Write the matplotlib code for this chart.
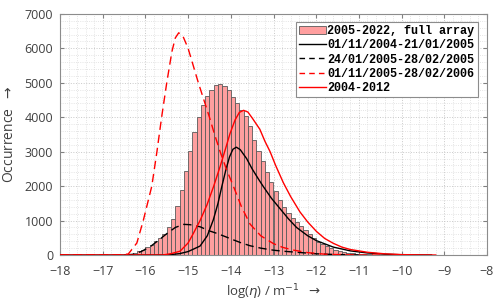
import numpy as np
import matplotlib.pyplot as plt
from matplotlib.ticker import MultipleLocator
from matplotlib.patches import Patch
from matplotlib.lines import Line2D

# histogramme 2005-2022 (centres de classes, largeur 0.1)
bin_centres = np.round(np.arange(-16.45, -9.95, 0.1), 2)
counts = [20, 40, 70, 110, 160, 220, 300, 400, 500, 620,
          800, 1060, 1420, 1900, 2450, 3030, 3560, 4000, 4350, 4620,
          4800, 4940, 4970, 4920, 4780, 4580, 4400, 4210, 4040, 3750,
          3350, 3020, 2720, 2400, 2110, 1850, 1610, 1380, 1220, 1070,
          950, 830, 720, 600, 480, 390, 320, 260, 195, 145,
          115, 90, 70, 55, 42, 32, 25, 18, 13, 10,
          7, 5, 4, 3, 2]

# courbes
x_blk = [-18, -15.5, -15.2, -15.0, -14.72, -14.55, -14.41, -14.3, -14.21, -14.12, -14.03,
         -13.95, -13.87, -13.78, -13.63, -13.5, -13.35, -13.24, -13.05, -12.85, -12.65,
         -12.46, -12.2, -12.0, -11.6, -11.2, -10.8, -10.4, -10.0, -9.3]
y_blk = [0, 0, 40, 100, 260, 560, 1020, 1500, 1990, 2450, 2850,
         3070, 3130, 3060, 2800, 2500, 2200, 1990, 1650, 1350, 1050,
         800, 560, 420, 230, 120, 60, 25, 8, 0]

x_blkd = [-18, -16.5, -16.3, -16.1, -15.89, -15.7, -15.5, -15.3, -15.1, -14.95, -14.72,
          -14.5, -14.33, -14.1, -13.94, -13.75, -13.55, -13.3, -13.0, -12.77, -12.4,
          -12.0, -11.5, -11.0]
y_blkd = [0, 0, 20, 100, 240, 420, 620, 800, 890, 880, 820,
          700, 630, 520, 440, 350, 270, 200, 140, 110, 75,
          35, 12, 0]

x_redd = [-18, -16.6, -16.4, -16.2, -16.05, -15.95, -15.85, -15.73, -15.62, -15.5, -15.38,
          -15.3, -15.22, -15.12, -15.0, -14.88, -14.76, -14.63, -14.5, -14.38, -14.25,
          -14.1, -13.94, -13.75, -13.55, -13.3, -13.0, -12.78, -12.54, -12.2, -11.8,
          -11.4, -11.0, -10.5]
y_redd = [0, 0, 30, 350, 1000, 1500, 2000, 3000, 4000, 5000, 5900,
          6300, 6450, 6350, 6000, 5500, 5000, 4500, 4000, 3500, 3000,
          2480, 2000, 1400, 900, 560, 330, 220, 145, 70, 25,
          8, 0, 0]

x_red = [-18, -15.6, -15.4, -15.19, -15.0, -14.88, -14.72, -14.56, -14.4, -14.25, -14.12,
         -14.02, -13.9, -13.8, -13.7, -13.6, -13.5, -13.32, -13.2, -13.08, -12.95,
         -12.77, -12.6, -12.38, -12.2, -11.99, -11.8, -11.6, -11.4, -11.2, -10.8,
         -10.4, -10.0, -9.6, -9.2]
y_red = [0, 0, 40, 110, 350, 620, 1000, 1450, 2000, 2570, 3100,
         3520, 3920, 4140, 4200, 4150, 3980, 3650, 3300, 3000, 2600,
         2100, 1700, 1250, 960, 680, 480, 340, 230, 160, 80,
         35, 12, 4, 0]

labels = ['2005-2022, full array', '01/11/2004-21/01/2005', '24/01/2005-28/02/2005',
          '01/11/2005-28/02/2006', '2004-2012']

gris = '#404040'
rose = '#ff9f9f'

fig = plt.figure(figsize=(5, 3.08), dpi=100)
ax = fig.add_axes([0.12, 0.172, 0.854, 0.783])

ax.bar(bin_centres, counts, width=0.1, color=rose, edgecolor='#5a5a5a', linewidth=0.6, zorder=2)
ax.plot(x_blk, y_blk, '-', color='k', lw=1.0, zorder=3)
ax.plot(x_blkd, y_blkd, '--', color='k', lw=1.0, dashes=(6, 3.5), zorder=3)
ax.plot(x_redd, y_redd, '--', color='r', lw=1.0, dashes=(6, 3.5), zorder=3)
ax.plot(x_red, y_red, '-', color='r', lw=1.0, zorder=3)

ax.set_xlim(-18, -8)
ax.set_ylim(0, 7000)
ax.xaxis.set_major_locator(MultipleLocator(1))
ax.xaxis.set_minor_locator(MultipleLocator(0.2))
ax.yaxis.set_major_locator(MultipleLocator(1000))
ax.yaxis.set_minor_locator(MultipleLocator(200))
ax.grid(which='major', color='#c8c8c8', ls=':', lw=0.7, zorder=0)
ax.grid(which='minor', color='#dcdcdc', ls=':', lw=0.6, zorder=0)
ax.set_axisbelow(True)
ax.tick_params(which='major', direction='in', top=True, right=True, length=3,
               color='#808080', labelsize=9, labelcolor=gris)
ax.tick_params(axis='x', pad=7)
ax.tick_params(axis='y', pad=5)
ax.tick_params(which='minor', length=0)
for s in ax.spines.values():
    s.set_color('#8c8c8c')
    s.set_linewidth(0.8)
for t in ax.get_xticklabels() + ax.get_yticklabels():
    t.set_family('Open Sans')

ax.set_xlabel(r'log($\eta$) / m$^{-1}$  $\rightarrow$', fontsize=9.5, color=gris, family='Open Sans', labelpad=3)
ax.set_ylabel(r'Occurrence  $\rightarrow$', fontsize=10, color=gris, family='Open Sans', labelpad=5)

handles = [Patch(facecolor=rose, edgecolor='#5a5a5a', linewidth=0.6),
           Line2D([], [], color='k', lw=1.0),
           Line2D([], [], color='k', lw=1.0, ls='--', dashes=(4, 3)),
           Line2D([], [], color='r', lw=1.0, ls='--', dashes=(4, 3)),
           Line2D([], [], color='r', lw=1.0)]
leg = ax.legend(handles, labels, loc='upper right', bbox_to_anchor=(0.979, 0.967),
                prop={'family': 'Liberation Mono', 'weight': 'bold', 'size': 8.5},
                frameon=True, fancybox=False, edgecolor='#8c8c8c', framealpha=1,
                handlelength=2.3, handletextpad=0.1, borderpad=0.3, labelspacing=0.18,
                borderaxespad=0)
leg.get_frame().set_linewidth(0.8)

plt.savefig('out.png', dpi=100)
